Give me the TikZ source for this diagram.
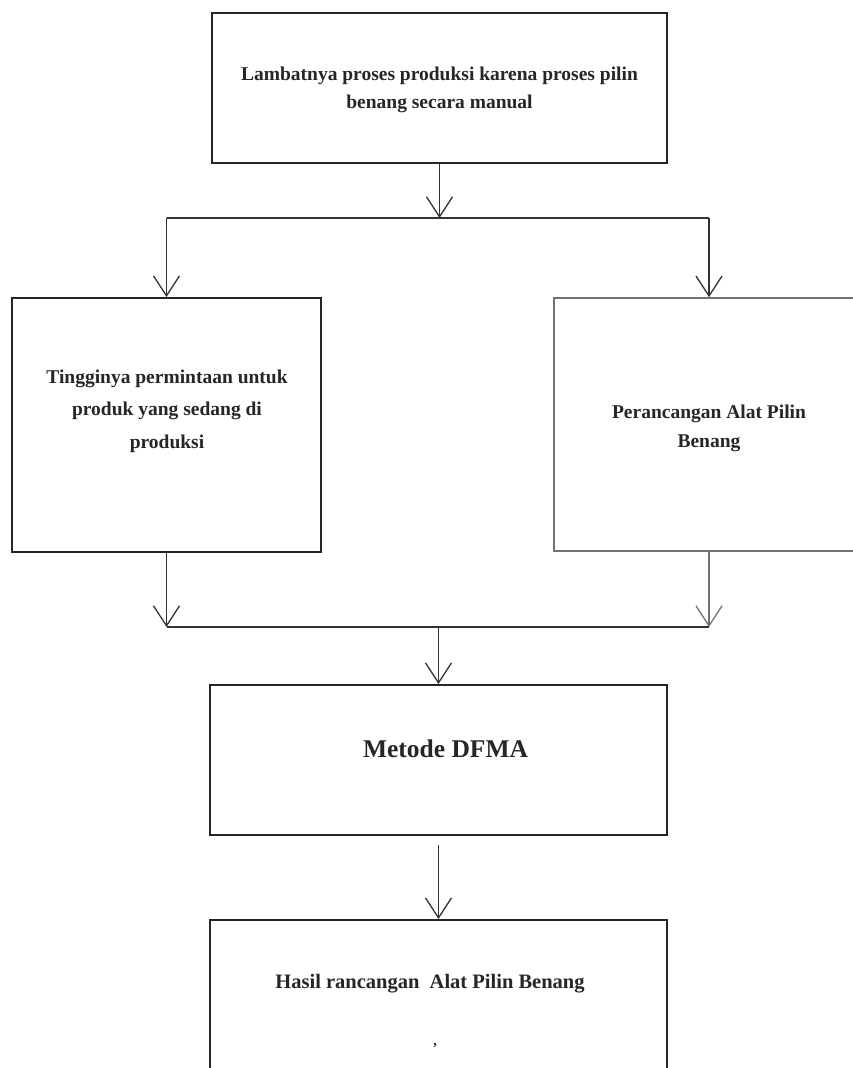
\documentclass[tikz,border=0pt]{standalone}
\usepackage{fontspec}
\setmainfont{Liberation Serif}
\usetikzlibrary{arrows.meta}
\begin{document}
\begin{tikzpicture}[x=1pt,y=-1pt,
  box/.style={draw=black!85, line width=1.9pt, rectangle, inner sep=0pt},
  lightbox/.style={draw=black!55, line width=1.6pt, rectangle, inner sep=0pt},
  conn/.style={draw=black!80, line width=1.7pt},
  lightconn/.style={draw=black!55, line width=1.5pt},
  arr/.style={-{Straight Barb[length=20pt,width=26pt,line width=1.3pt]}},
  txt/.style={font=\bfseries\fontsize{19.5}{28}\selectfont, align=center, inner sep=0pt, text=black!85},
]
\useasboundingbox (0,0) rectangle (852,1068);
\fill[white] (0,0) rectangle (852,1068);

% boxes
\node[box, minimum width=455pt, minimum height=150pt] (top) at (439.5,88) {};
\node[box, minimum width=309pt, minimum height=254pt] (left) at (166.5,425) {};
\node[lightbox, minimum width=310pt, minimum height=253pt] (right) at (709,424.5) {};
\node[box, minimum width=457pt, minimum height=150pt] (dfma) at (438.5,760) {};
\node[box, minimum width=457pt, minimum height=180pt] (hasil) at (438.5,1010) {};

% texts
\node[txt] (ttop) at (439.5,90) {Lambatnya proses produksi karena proses pilin\\benang secara manual};
\node[txt, font=\bfseries\fontsize{19.5}{32.5}\selectfont] (tleft) at (167,411) {Tingginya permintaan untuk\\produk yang sedang di\\produksi};
\node[txt, font=\bfseries\fontsize{19.5}{29}\selectfont] (tright) at (709,428) {Perancangan Alat Pilin\\Benang};
\node[txt, font=\bfseries\fontsize{25.5}{30}\selectfont] (tdfma) at (445.5,749) {Metode DFMA};
\node[txt, font=\bfseries\fontsize{20.5}{26}\selectfont] (thasil) at (430,984) {Hasil rancangan~~Alat Pilin Benang};
\node[txt, font=\bfseries\fontsize{14}{14}\selectfont] (tdot) at (435,1046) {,};

% junctions
\coordinate (j1) at (439.5,218);
\coordinate (j1l) at (166.5,218);
\coordinate (j1r) at (709,218);
\coordinate (j2l) at (166.5,627);
\coordinate (j2r) at (709,627);
\coordinate (j2) at (438.5,627);
\coordinate (d1) at (438.5,845);

% connectors
\draw[conn, arr] (top.south) -- (j1);
\draw[conn] (j1l) -- (j1r);
\draw[conn, arr] (j1l) -- (left.north);
\draw[conn, arr] (j1r) -- (right.north);
\draw[conn, arr] (left.south) -- (j2l);
\draw[lightconn, arr] (right.south) -- (j2r);
\draw[conn] (j2l) -- (j2r);
\draw[conn, arr] (j2) -- (dfma.north);
\draw[conn, arr] (d1) -- (hasil.north);
\end{tikzpicture}
\end{document}
